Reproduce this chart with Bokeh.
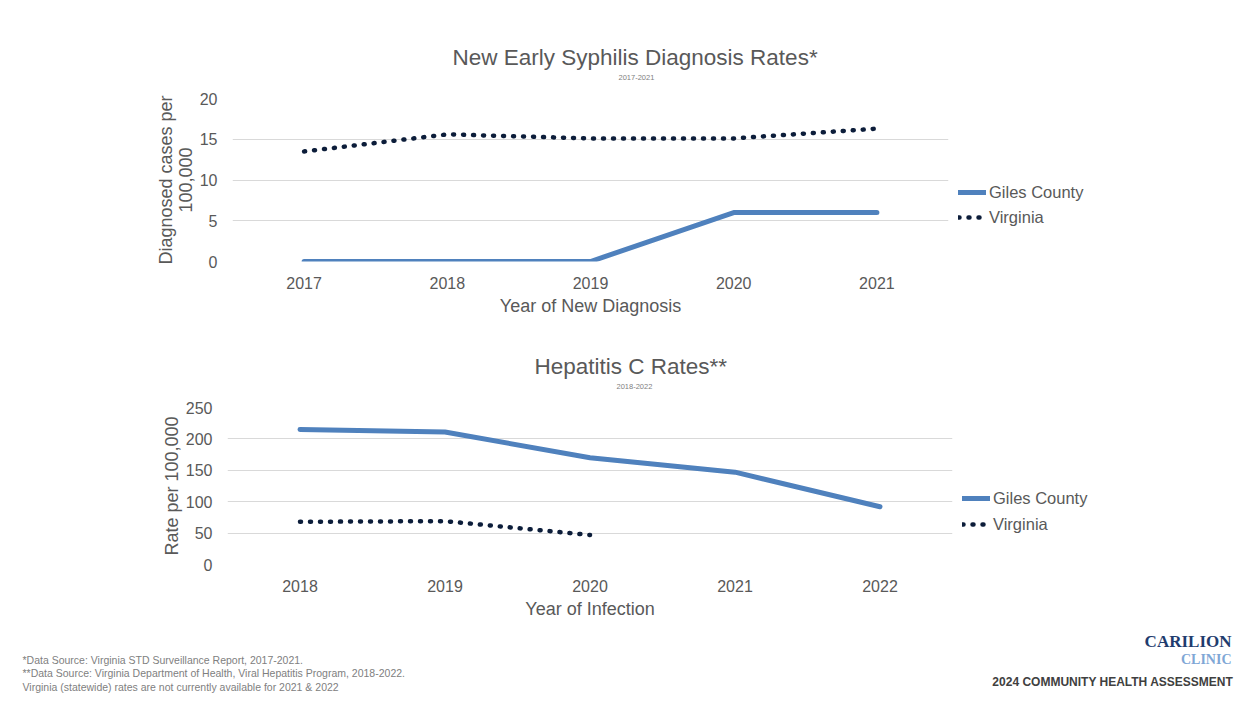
from bokeh.plotting import figure
from bokeh.models import (FactorRange, Range1d, Legend, LegendItem, Title,
                          FixedTicker, Label)
from bokeh.layouts import column
from bokeh.embed import file_html
from bokeh.resources import INLINE

# ---------------- data ----------------
syph_years = ["2017", "2018", "2019", "2020", "2021"]
syph_giles = [0, 0, 0, 6, 6]
syph_va = [13.5, 15.6, 15.1, 15.1, 16.3]
syph_ticks = [0, 5, 10, 15, 20]

hep_years = ["2018", "2019", "2020", "2021", "2022"]
hep_giles = [215, 211, 170, 147, 92]
hep_va_years = ["2018", "2019", "2020"]
hep_va = [68, 69, 47]
hep_ticks = [0, 50, 100, 150, 200, 250]

series_names = ["Giles County", "Virginia"]

footnotes = [
    "*Data Source: Virginia STD Surveillance Report, 2017-2021.",
    "**Data Source: Virginia Department of Health, Viral Hepatitis Program, 2018-2022.",
    "Virginia (statewide) rates are not currently available for 2021 & 2022",
]

# ---------------- style ----------------
FONT = "Liberation Sans"
GREY = "#595959"
BLUE = "#4f81bd"
NAVY = "#0c1d3a"
W = 1231


def make_chart(years, giles, va_years, va, ticks, ymax, title, sub, xlabel,
               ylabel, height, f_left, f_width, f_top, f_bottom, title_off,
               sub_off, legend_loc, legend_spacing, ylab_standoff):
    p = figure(frame_width=f_width, frame_height=f_bottom - f_top,
               x_range=FactorRange(*years), y_range=Range1d(0, ymax),
               output_backend="svg", toolbar_location=None,
               min_border_left=f_left, min_border_right=W - f_left - f_width,
               min_border_top=f_top, min_border_bottom=height - f_bottom)
    p.frame_align = False
    p.outline_line_color = None
    p.background_fill_color = "white"
    p.border_fill_color = "white"

    # main title (outermost), subtitle, spacer (closest to frame)
    p.title.text = title
    p.title.text_font = FONT
    p.title.text_font_size = "22.5px"
    p.title.text_font_style = "normal"
    p.title.text_color = GREY
    p.title.align = "left"
    p.title.offset = title_off
    p.title.standoff = 0
    spacer = Title(text=" ", text_font=FONT, text_font_size="1px",
                   standoff=13)
    p.add_layout(spacer, "above")
    st = Title(text=sub, text_font=FONT, text_font_size="7.5px",
               text_font_style="normal", text_color="#808080", align="left",
               offset=sub_off, standoff=6)
    p.add_layout(st, "above")

    # axes
    for ax in (p.xaxis[0], p.yaxis[0]):
        ax.axis_line_color = None
        ax.major_tick_line_color = None
        ax.minor_tick_line_color = None
        ax.major_label_text_font = FONT
        ax.major_label_text_font_size = "16px"
        ax.major_label_text_color = GREY
        ax.axis_label_text_font = FONT
        ax.axis_label_text_font_size = "18px"
        ax.axis_label_text_font_style = "normal"
        ax.axis_label_text_color = GREY
        ax.axis_label_text_line_height = 1.0
    p.xaxis.axis_label = xlabel
    p.xaxis.major_label_standoff = 9
    p.xaxis.axis_label_standoff = 4
    p.yaxis.axis_label = ylabel
    p.yaxis.major_label_standoff = 9
    p.yaxis.axis_label_standoff = ylab_standoff
    p.yaxis.ticker = FixedTicker(ticks=ticks)
    p.xgrid.grid_line_color = None
    p.ygrid.grid_line_color = "#d9d9d9"
    p.ygrid.grid_line_width = 1

    r1 = p.line(x=years, y=giles, line_color=BLUE, line_width=5,
                line_cap="round", line_join="round")
    r2 = p.line(x=va_years, y=va, line_color=NAVY, line_width=4.5,
                line_dash="1 9", line_cap="round", line_join="round")

    leg = Legend(items=[LegendItem(label=series_names[0], renderers=[r1]),
                        LegendItem(label=series_names[1], renderers=[r2])],
                 location=legend_loc, orientation="vertical",
                 label_text_font=FONT, label_text_font_size="16.5px",
                 label_text_color=GREY, glyph_width=28, glyph_height=20,
                 label_height=20, label_standoff=3, spacing=legend_spacing,
                 padding=0, margin=0, border_line_color=None,
                 background_fill_alpha=0)
    p.add_layout(leg, "right")
    return p


# chart 1: page rows 0-330 ; frame page coords x 232-948, y 98-261
p1 = make_chart(syph_years, syph_giles, syph_years, syph_va, syph_ticks, 20,
                "New Early Syphilis Diagnosis Rates*", "2017-2021",
                "Year of New Diagnosis", "Diagnosed cases per\n100,000",
                330, 232, 716, 98, 261, 220, 386, (10, 34), 5, 1)

# chart 2: page rows 330-622 ; frame page coords x 227-952, y 407-564
p2 = make_chart(hep_years, hep_giles, hep_va_years, hep_va, hep_ticks, 250,
                "Hepatitis C Rates**", "2018-2022",
                "Year of Infection", "Rate per 100,000",
                292, 227, 725, 77, 234, 307, 389, (10, 30), 6, 1)

# footer: page rows 622-700
FW = 1245
FH = 78
p3 = figure(width=FW, height=FH, x_range=Range1d(0, FW), y_range=Range1d(0, FH),
            output_backend="svg", toolbar_location=None,
            x_axis_type=None, y_axis_type=None,
            min_border_left=0, min_border_right=0, min_border_top=0,
            min_border_bottom=0)
p3.frame_align = False
p3.outline_line_color = None
p3.xgrid.grid_line_color = None
p3.ygrid.grid_line_color = None
p3.title.text = ""

for i, txt in enumerate(footnotes):
    p3.add_layout(Label(x=22, y=41 - i * 13.5, text=txt, text_font=FONT,
                        text_font_size="10.5px", text_color="#808080",
                        text_baseline="middle", text_align="left"))

p3.add_layout(Label(x=1231, y=59, text="CARILION", text_font="Liberation Serif",
                    text_font_size="17px", text_font_style="bold",
                    text_color="#1f3c6e", text_baseline="middle",
                    text_align="right"))
p3.add_layout(Label(x=1231, y=41, text="CLINIC", text_font="Liberation Serif",
                    text_font_size="14px", text_font_style="bold",
                    text_color="#7fa7d6", text_baseline="middle",
                    text_align="right"))
p3.add_layout(Label(x=1233, y=19, text="2024 COMMUNITY HEALTH ASSESSMENT",
                    text_font=FONT, text_font_size="12px",
                    text_font_style="bold", text_color="#404040",
                    text_baseline="middle", text_align="right"))

layout = column(p1, p2, p3, spacing=0)
open("out.html", "w").write(file_html(layout, INLINE))
